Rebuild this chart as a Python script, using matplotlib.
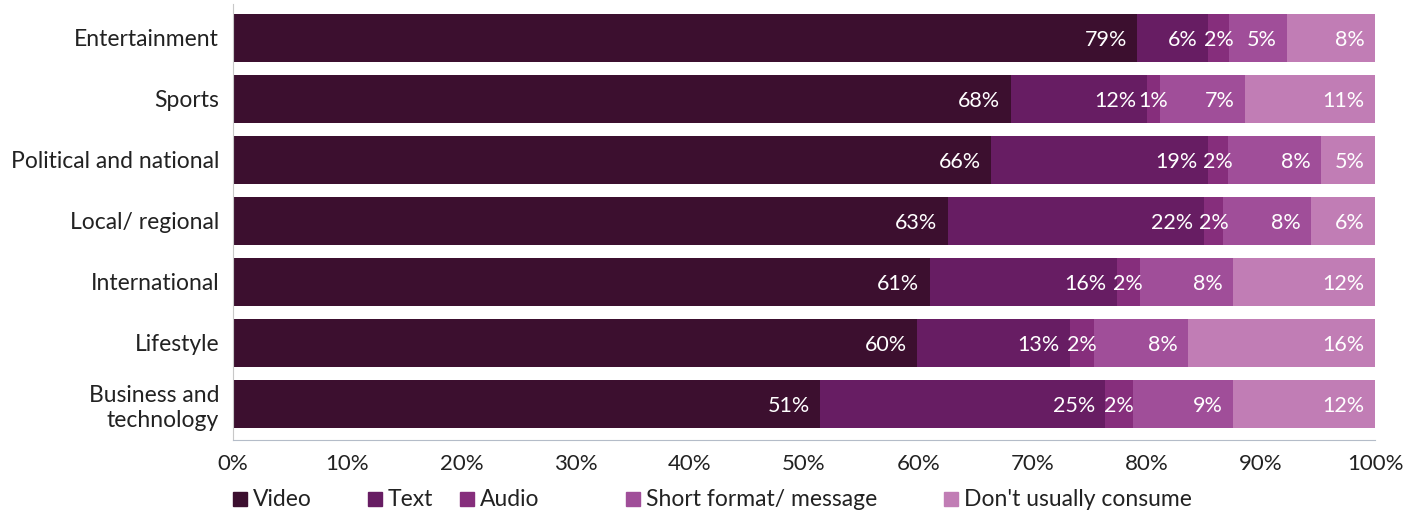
import numpy as np
import matplotlib.pyplot as plt
from matplotlib.patches import Rectangle

plt.rcParams['font.family'] = ['Lato', 'DejaVu Sans']

categories = ['Entertainment', 'Sports', 'Political and national', 'Local/ regional',
              'International', 'Lifestyle', 'Business and\ntechnology']
series = ['Video', 'Text', 'Audio', 'Short format/ message', "Don't usually consume"]
video = [79.2, 68.1, 66.4, 62.6, 61.0, 59.9, 51.4]
text = [6.2, 11.9, 19.0, 22.4, 16.4, 13.4, 25.0]
audio = [1.8, 1.2, 1.7, 1.7, 2.0, 2.1, 2.4]
short = [5.1, 7.4, 8.2, 7.7, 8.2, 8.2, 8.8]
none_ = [7.7, 11.4, 4.7, 5.6, 12.4, 16.4, 12.4]
colors = ['#3c0f2f', '#671d63', '#862e7c', '#a04e99', '#c17db5']

W, H = 1417, 514
fig = plt.figure(figsize=(W / 100, H / 100), dpi=100)
ax = fig.add_axes([233 / W, 74 / H, 1142 / W, 436 / H])
ax.set_xlim(0, 100)
ax.set_ylim(-0.557 + 436 / 61, -0.557)

y = np.arange(len(categories))
left = np.zeros(len(categories))
labels = []
for vals, col in zip([video, text, audio, short, none_], colors):
    vals = np.array(vals)
    ax.barh(y, vals, left=left, color=col, height=0.8)
    for yi, l, v in zip(y, left, vals):
        t = ax.text(l + v - 0.9, yi + 0.03, f'{round(v)}%', ha='right', va='center',
                    color='white', fontsize=15.5)
        labels.append((t, l, v, yi))
    left += vals

# labels wider than their segment get centred on it
fig.canvas.draw()
r = fig.canvas.get_renderer()
px_per_unit = 1142 / 100
for t, l, v, yi in labels:
    w = t.get_window_extent(r).width
    if w + 0.9 * px_per_unit > v * px_per_unit:
        t.set_ha('center')
        t.set_x(l + v / 2)

ax.set_yticks(y)
ax.set_yticklabels(categories, fontsize=16.5, color='#222222', linespacing=1.25)
ax.set_xticks(np.arange(0, 101, 10))
ax.set_xticklabels([f'{t}%' for t in range(0, 101, 10)], fontsize=16, color='#222222')
ax.tick_params(length=0, pad=10)
ax.tick_params(axis='x', pad=10)
for s in ['top', 'right']:
    ax.spines[s].set_visible(False)
ax.spines['left'].set_color('#c8c8c8')
ax.spines['bottom'].set_color('#b4bcc8')

# legend laid out by hand, Excel-style uneven spacing
leg_x = [233, 368, 460, 626, 944]
leg_y = 499
sq = 14
for x0, c, s in zip(leg_x, colors, series):
    fig.patches.append(Rectangle((x0 / W, (H - leg_y - sq / 2) / H), sq / W, sq / H,
                                 transform=fig.transFigure, color=c))
    fig.text((x0 + sq + 6) / W, (H - leg_y) / H, s, fontsize=16.5, color='#222222',
             ha='left', va='center')

fig.savefig('out.png', dpi=100)
